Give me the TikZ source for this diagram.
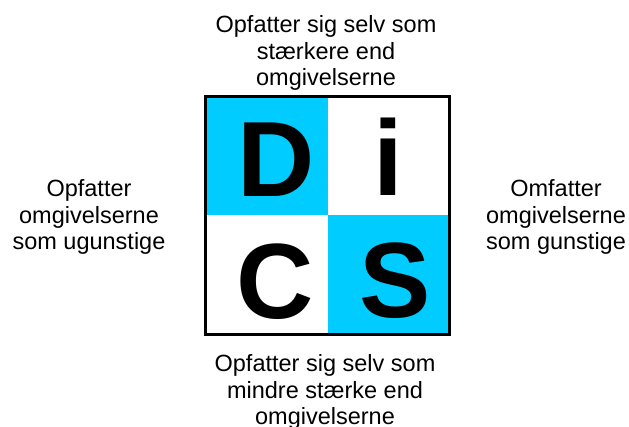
\documentclass[tikz,border=0pt]{standalone}
\usepackage{fontspec}
\setmainfont{Liberation Sans}
\usepackage{tikz}
\usetikzlibrary{positioning}
\definecolor{discyan}{RGB}{0,204,255}

\begin{document}
\begin{tikzpicture}[x=1pt, y=-1pt,
    cell/.style={draw=none, inner sep=0pt, minimum width=122pt, minimum height=119pt},
    letter/.style={anchor=base, inner sep=0pt, font=\fontsize{107}{107}\selectfont\bfseries},
    label/.style={anchor=base, inner sep=0pt, align=center, font=\fontsize{23.5}{26.4}\selectfont}]
    \useasboundingbox (0,0) rectangle (629,427);

    % DiSC quadrants
    \node[cell, fill=discyan] (d) at (266.5,156) {};
    \node[cell] (i) at (388.5,156) {};
    \node[cell] (c) at (266.5,275) {};
    \node[cell, fill=discyan] (s) at (388.5,275) {};
    \draw[line width=3pt] (d.north west) rectangle (s.south east);

    \node[letter] (D) at (276,197) {D};
    \node[letter] (I) at (388,196) {i};
    \node[letter] (C) at (275,319) {C};
    \node[letter] (S) at (395,318) {S};

    % Descriptions round the square (base = last line)
    \node[label] (top) at (326,85.8) {Opfatter sig selv som\\stærkere end\\omgivelserne};
    \node[label] (bottom) at (325,424.8) {Opfatter sig selv som\\mindre stærke end\\omgivelserne};
    \node[label] (left) at (89,249.8) {Opfatter\\omgivelserne\\som ugunstige};
    \node[label] (right) at (556,249.8) {Omfatter\\omgivelserne\\som gunstige};
\end{tikzpicture}
\end{document}
